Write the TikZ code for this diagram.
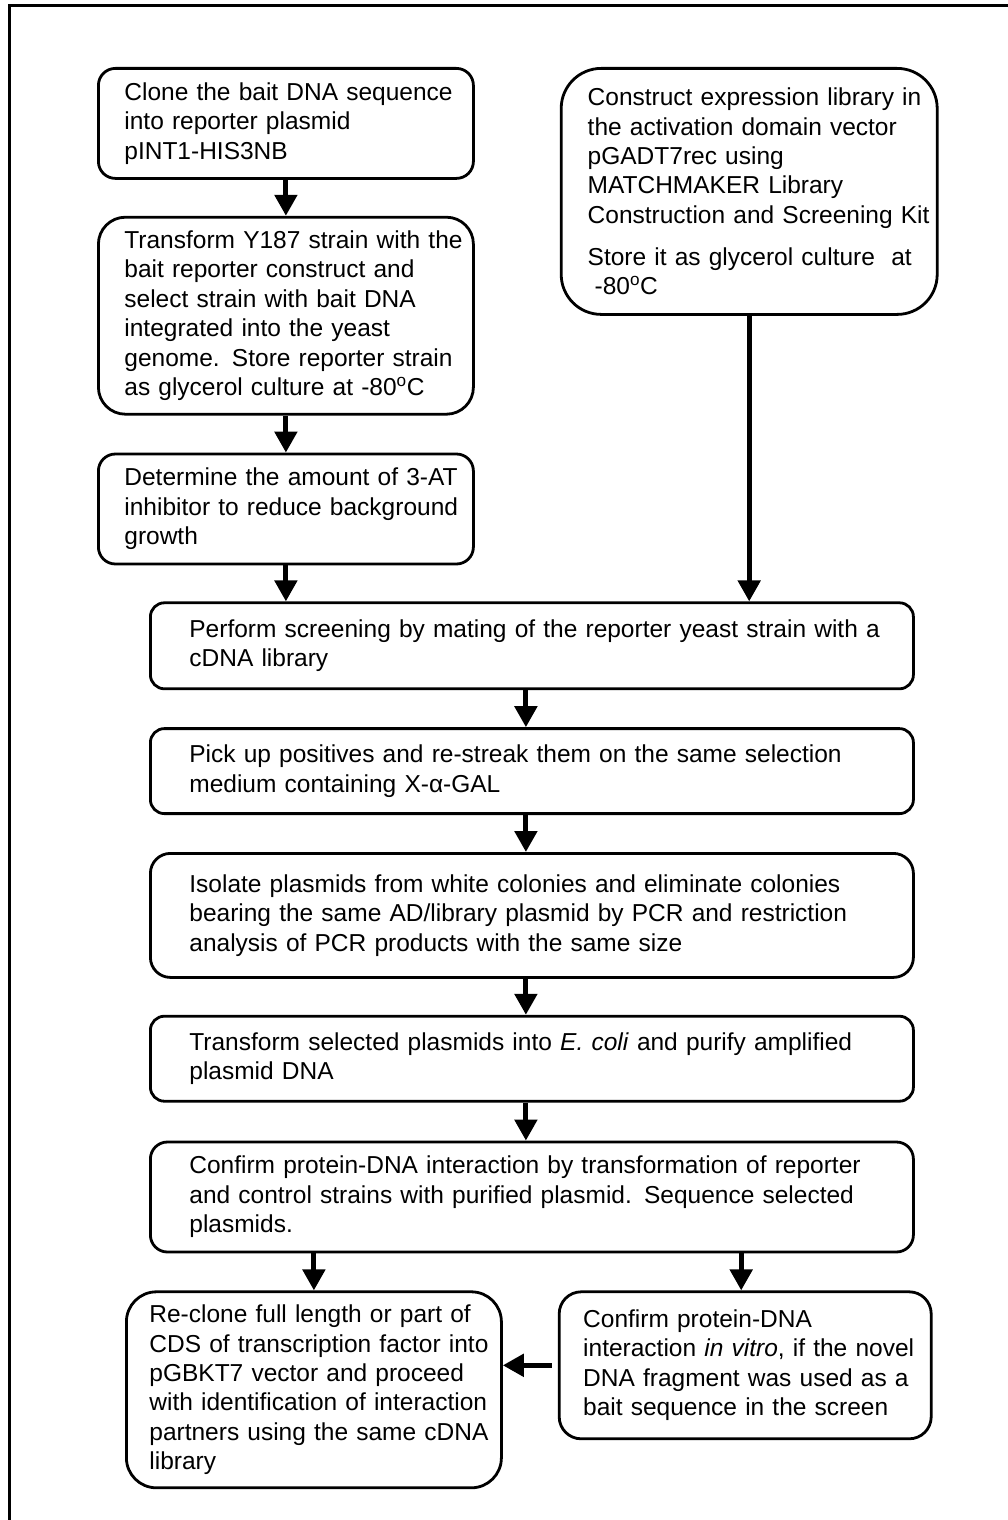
\documentclass[tikz,border=0pt]{standalone}
\usepackage{fontspec}
\setmainfont{Liberation Sans}
\usepackage{tikz}
\usetikzlibrary{arrows.meta, positioning, calc}
\tikzstyle{arrow} = [line width=5pt, -{Triangle[length=21pt,width=22pt]}]
\tikzstyle{frame} = [line width=3pt]
\tikzstyle{stepbox} = [rectangle, draw=black, line width=2.8pt, fill=white, text=black, anchor=north west, align=left, inner ysep=0pt, font=\fontsize{24.5pt}{29.4pt}\selectfont, execute at begin node={\rightskip=0pt minus 50pt\relax}]
\tikzstyle{narrow} = [minimum width=375pt, text width=323pt, inner xsep=26pt]
\tikzstyle{wide} = [minimum width=763pt, text width=685pt, inner xsep=39pt]

\begin{document}
\begin{tikzpicture}
\useasboundingbox (0,0) rectangle (1008pt,-1520pt);
\draw [frame] (1010pt,-6pt) -- (9pt,-6pt) -- (9pt,-1522pt);

% left column
\node (clone) [stepbox, narrow, minimum height=110pt, rounded corners=17pt] at (97pt,-67pt) {Clone the bait DNA sequence\\into reporter plasmid\\pINT1-HIS3NB};
\node (bait) [stepbox, narrow, minimum height=197pt, rounded corners=27pt, yshift=-36pt] at(clone.south west) {Transform Y187 strain with the\\bait reporter construct and\\select strain with bait DNA\\integrated into the yeast\\genome. Store reporter strain\\as glycerol culture at -80\textsuperscript{o}C};
\node (inhib) [stepbox, narrow, minimum height=110pt, rounded corners=17pt, yshift=-37pt] at(bait.south west) {Determine the amount of 3-AT\\inhibitor to reduce background\\growth};

% right column
\node (library) [stepbox, narrow, minimum width=376pt, minimum height=246pt, rounded corners=40pt, xshift=85pt] at(clone.north east) {Construct expression library in\\the activation domain vector\\pGADT7rec using\\MATCHMAKER Library\\Construction and Screening Kit\\[12.6pt]Store it as glycerol culture\ \ at\\\hspace*{7pt}-80\textsuperscript{o}C};

% main chain
\node (mating) [stepbox, wide, minimum width=762pt, minimum height=86pt, rounded corners=14pt, xshift=52pt, yshift=-36pt] at(inhib.south west) {Perform screening by mating of the reporter yeast strain with a\\cDNA library};
\node (pickup) [stepbox, wide, minimum height=85pt, rounded corners=14pt, yshift=-37pt] at(mating.south west) {Pick up positives and re-streak them on the same selection\\medium containing X-α-GAL};
\node (isolate) [stepbox, wide, minimum height=124pt, rounded corners=20pt, yshift=-37pt] at(pickup.south west) {Isolate plasmids from white colonies and eliminate colonies\\bearing the same AD/library plasmid by PCR and restriction\\analysis of PCR products with the same size};
\node (ecoli) [stepbox, wide, minimum height=85pt, rounded corners=14pt, yshift=-36pt] at(isolate.south west) {Transform selected plasmids into \textit{E. coli} and purify amplified\\plasmid DNA};
\node (confirm) [stepbox, wide, minimum height=110pt, rounded corners=17pt, yshift=-38pt] at(ecoli.south west) {Confirm protein-DNA interaction by transformation of reporter\\and control strains with purified plasmid. Sequence selected\\plasmids.};

% last row
\node (reclone) [stepbox, narrow, text width=329pt, inner xsep=23pt, minimum height=196pt, rounded corners=30pt, xshift=-24pt, yshift=-37pt] at(confirm.south west) {Re-clone full length or part of\\CDS of transcription factor into\\pGBKT7 vector and proceed\\with identification of interaction\\partners using the same cDNA\\library};
\node (invitro) [stepbox, narrow, minimum width=372pt, text width=324pt, inner xsep=24pt, minimum height=147pt, rounded corners=22pt, xshift=55pt] at(reclone.north east) {Confirm protein-DNA\\interaction \textit{in vitro}, if the novel\\DNA fragment was used as a\\bait sequence in the screen};

\draw [arrow] (clone.south) -- (bait.north);
\draw [arrow] (bait.south) -- (bait.south |- inhib.north);
\draw [arrow] (inhib.south) -- (inhib.south |- mating.north);
\draw [arrow] (library.south) -- (library.south |- mating.north);
\draw [arrow] ($(mating.south)+(-6pt,0)$) -- ($(pickup.north)+(-6pt,0)$);
\draw [arrow] ($(pickup.south)+(-6pt,0)$) -- ($(isolate.north)+(-6pt,0)$);
\draw [arrow] ($(isolate.south)+(-6pt,0)$) -- ($(ecoli.north)+(-6pt,0)$);
\draw [arrow] ($(ecoli.south)+(-6pt,0)$) -- ($(confirm.north)+(-6pt,0)$);
\draw [arrow] (reclone.north |- confirm.south) -- (reclone.north);
\draw [arrow] ($(invitro.north |- confirm.south)+(-4pt,0)$) -- ($(invitro.north)+(-4pt,0)$);
\draw [arrow, shorten <=6pt] (invitro.west) -- (reclone.east |- invitro.west);

\end{tikzpicture}
\end{document}
